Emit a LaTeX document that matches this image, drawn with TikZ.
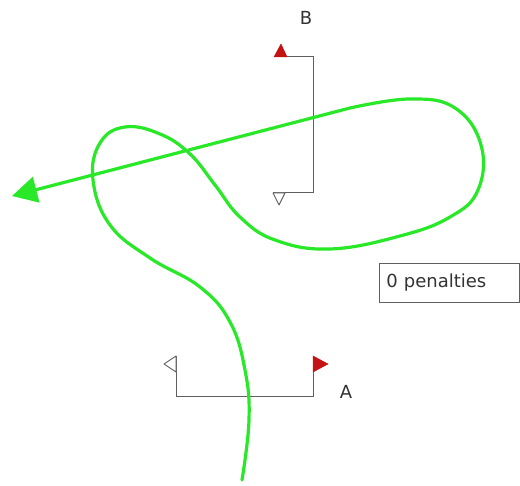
\documentclass[tikz,border=0pt]{standalone}
\usepackage{fontspec}
\setmainfont{DejaVu Sans}
\usetikzlibrary{arrows.meta}
\definecolor{trackgreen}{RGB}{40,232,40}
\definecolor{flagred}{RGB}{196,18,18}
\definecolor{gategray}{RGB}{95,95,95}

\begin{document}
\begin{tikzpicture}[x=1pt, y=-1pt,
    gate/.style = {draw=gategray, line width=1pt},
    redflag/.style = {draw=flagred, fill=flagred, line width=0.5pt, line join=round},
    whiteflag/.style = {draw=gategray, fill=white, line width=0.9pt, line join=round},
    label/.style = {font=\fontsize{18}{21}\selectfont, text=black!80},
    track/.style = {draw=trackgreen, line width=3.2pt, line cap=round, line join=round, -{Triangle[length=25pt,width=26pt]}}]
            \useasboundingbox (0,0) rectangle (520,486);

            % gate B
            \coordinate (B1) at (274,57);
            \coordinate (B2) at (313,57);
            \coordinate (B3) at (313,193);
            \coordinate (B4) at (273,193);
            \draw[gate] (B1) -- (B2) -- (B3) -- (B4);
            \draw[redflag] (B1) -- ++(13,0) -- ++(-6,-13) -- cycle;
            \draw[whiteflag] (B4) -- ++(12,0) -- ++(-6,12) -- cycle;
            \node[label] (B) at (306,18) {B};

            % gate A
            \coordinate (A1) at (176,356);
            \coordinate (A2) at (176,397);
            \coordinate (A3) at (313,397);
            \coordinate (A4) at (313,356);
            \draw[gate] (A1) -- (A2) -- (A3) -- (A4);
            \draw[whiteflag] (A1) -- ++(0,16) -- ++(-12,-8) -- cycle;
            \draw[redflag] (A4) -- ++(0,16) -- ++(15,-8) -- cycle;
            \node[label] (A) at (346,392) {A};

            % score box
            \node[label, draw=gategray, line width=0.8pt, anchor=north west, minimum width=140pt, minimum height=39pt, text width=126pt, align=left, inner xsep=7pt] (score) at (379,263) {0 penalties};

            % driven track
            \coordinate (tip) at (12,196);
            \draw[track] plot[smooth, tension=0.7] coordinates {(242,480) (249,420) (245,370) (230,322) (200,287) (150,258) (110,225) (93,180) (100,143) (125,127) (160,134) (190,154) (215,185) (240,217) (275,240) (330,249) (400,236) (450,217) (478,190) (481,145) (455,108) (410,99) (350,108)} -- (tip);
        \end{tikzpicture}
\end{document}
